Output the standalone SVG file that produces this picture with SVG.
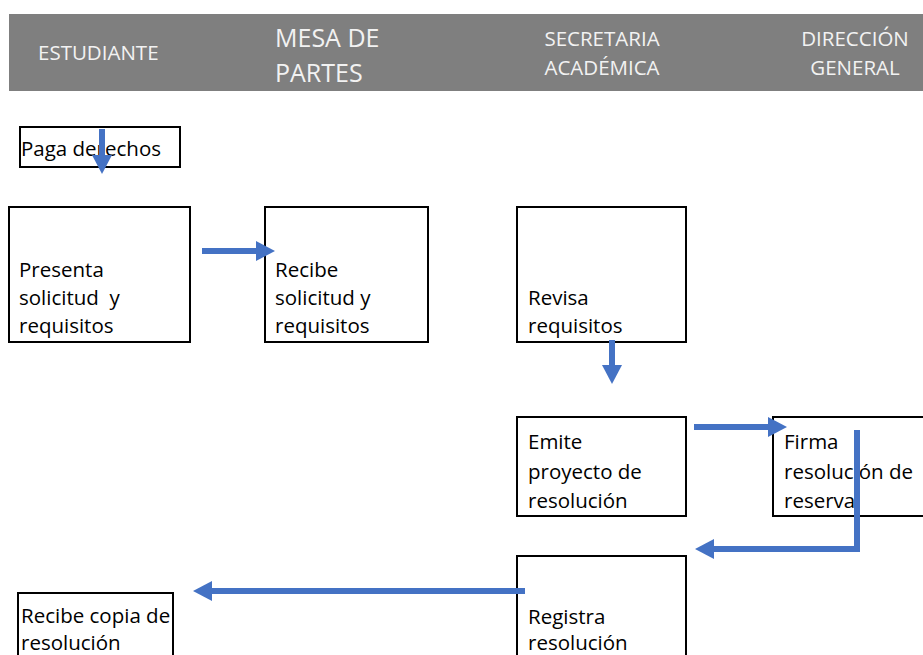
<svg xmlns="http://www.w3.org/2000/svg" width="923" height="655" viewBox="0 0 923 655">
<defs>
<style>
.hdr{font-family:"Open Sans","Liberation Sans",sans-serif;fill:#f2f2f2;font-size:20.5px}
.big{font-size:25px}
.box{fill:#fff;stroke:#000;stroke-width:2}
.t{font-family:"Open Sans","Liberation Sans",sans-serif;font-size:20.5px;fill:#000;white-space:pre}
.arr{fill:none;stroke:#4472c4;stroke-width:6}
</style>
<marker id="ah" markerUnits="userSpaceOnUse" markerWidth="20" markerHeight="20" viewBox="0 0 20 20" refX="0" refY="10" orient="auto" overflow="visible">
<path d="M0,0 L19,10 L0,20 Z" fill="#4472c4"/>
</marker>
</defs>
<rect width="923" height="655" fill="#fff"/>
<g id="header">
<rect x="9" y="14" width="914" height="77" fill="#7f7f7f"/>
<text class="hdr" x="38" y="60">ESTUDIANTE</text>
<text class="hdr big" x="275" y="47">MESA DE</text>
<text class="hdr big" x="275" y="82">PARTES</text>
<text class="hdr" x="602" y="46" text-anchor="middle">SECRETARIA</text>
<text class="hdr" x="602" y="75" text-anchor="middle">ACADÉMICA</text>
<text class="hdr" x="855" y="46" text-anchor="middle">DIRECCIÓN</text>
<text class="hdr" x="855" y="75" text-anchor="middle">GENERAL</text>
</g>
<g id="n-paga">
<rect class="box" x="20" y="127" width="160" height="40"/>
<text class="t" x="21" y="156">Paga derechos</text>
</g>
<g id="n-presenta">
<rect class="box" x="9" y="207" width="181" height="135"/>
<text class="t" x="19" y="277">Presenta</text>
<text class="t" x="19" y="305">solicitud  y</text>
<text class="t" x="19" y="333">requisitos</text>
</g>
<g id="n-recibe">
<rect class="box" x="265" y="207" width="163" height="135"/>
<text class="t" x="275" y="277">Recibe</text>
<text class="t" x="275" y="305">solicitud y</text>
<text class="t" x="275" y="333">requisitos</text>
</g>
<g id="n-revisa">
<rect class="box" x="517" y="207" width="169" height="135"/>
<text class="t" x="528" y="305">Revisa</text>
<text class="t" x="528" y="333">requisitos</text>
</g>
<g id="n-emite">
<rect class="box" x="517" y="417" width="169" height="99"/>
<text class="t" x="528" y="449">Emite</text>
<text class="t" x="528" y="479">proyecto de</text>
<text class="t" x="528" y="508">resolución</text>
</g>
<g id="n-firma">
<rect class="box" x="773" y="417" width="160" height="99"/>
<text class="t" x="784" y="449">Firma</text>
<text class="t" x="784" y="479">resolución de</text>
<text class="t" x="784" y="508">reserva</text>
</g>
<g id="n-registra">
<rect class="box" x="517" y="556" width="169" height="110"/>
<text class="t" x="528" y="624">Registra</text>
<text class="t" x="528" y="650">resolución</text>
</g>
<g id="n-copia">
<rect class="box" x="18" y="593" width="155" height="70"/>
<text class="t" x="21" y="623">Recibe copia de</text>
<text class="t" x="21" y="650">resolución</text>
</g>
<g id="connectors">
<path class="arr" d="M102,129 V155" marker-end="url(#ah)"/>
<path class="arr" d="M202,251 H256" marker-end="url(#ah)"/>
<path class="arr" d="M612,340 V365" marker-end="url(#ah)"/>
<path class="arr" d="M694,427 H768" marker-end="url(#ah)"/>
<path class="arr" d="M857,430 V549 H714" marker-end="url(#ah)"/>
<path class="arr" d="M525,591 H212" marker-end="url(#ah)"/>
</g>
</svg>
